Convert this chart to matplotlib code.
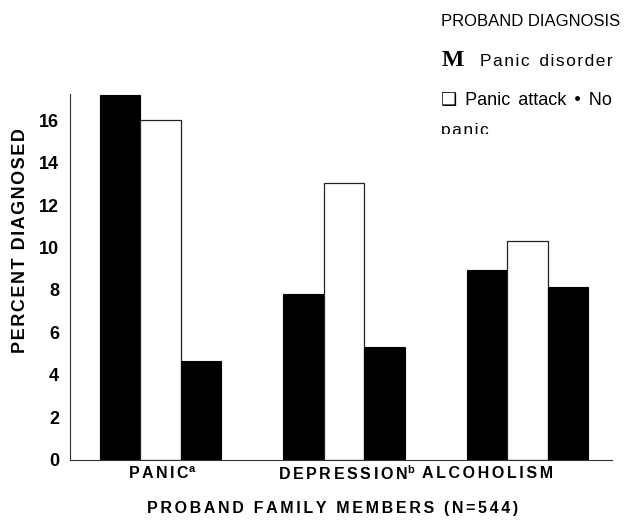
import matplotlib
matplotlib.use("Agg")
import matplotlib.pyplot as plt
import numpy as np
from matplotlib.transforms import Bbox

categories = ["PANIC", "DEPRESSION", "ALCOHOLISM"]
superscripts = ["a", "b", ""]
series_names = ["Panic disorder", "Panic attack", "No panic"]
panic_disorder = [17.2, 7.8, 8.95]
panic_attack = [16.0, 13.05, 10.3]
no_panic = [4.65, 5.3, 8.15]
yticks = [0, 2, 4, 6, 8, 10, 12, 14, 16]

plt.rcParams['font.family'] = ['Liberation Sans', 'DejaVu Sans']
plt.rcParams['mathtext.fontset'] = 'custom'
plt.rcParams['mathtext.bf'] = 'Liberation Sans:bold'
plt.rcParams['mathtext.rm'] = 'Liberation Sans'
SP = "\u2006"


def spaced(s, sp=SP):
    return sp.join(list(s))


W, H = 624, 521
fig = plt.figure(figsize=(6.24, 5.21), dpi=100)
ax = fig.add_axes([70/W, 61.5/H, 542/W, 365.7/H])

x = np.arange(len(categories))
w = 0.22
ax.bar(x - w, panic_disorder, w, color='black', edgecolor='black', linewidth=0.8)
ax.bar(x, panic_attack, w, color='white', edgecolor='#222222', linewidth=0.9)
ax.bar(x + w, no_panic, w, color='black', edgecolor='black', linewidth=0.8)

ax.set_xlim(-0.492, 2.46)
ax.set_ylim(0, 17.25)
for s in ['top', 'right']:
    ax.spines[s].set_visible(False)
for s in ['left', 'bottom']:
    ax.spines[s].set_linewidth(0.8)
    ax.spines[s].set_color('#333333')
ax.set_yticks(yticks)
ax.set_yticklabels([str(v) for v in yticks], fontweight='bold', fontsize=13)
ax.tick_params(axis='y', length=0, pad=8)
ax.set_xticks([])

fig.text(21/W, 1 - 241/H, spaced("PERCENT DIAGNOSED", "\u200a"), rotation=90, ha='center', va='center',
         fontweight='bold', fontsize=13)

# category labels
label_px = [162, 347, 488]
for i, (c, sup) in enumerate(zip(categories, superscripts)):
    txt = spaced(c) + (r"$^{\mathbf{%s}}$" % sup if sup else "")
    fig.text(label_px[i]/W, 1 - 474/H, txt, ha='center', va='center',
             fontweight='bold', fontsize=11.5)

fig.text(333/W, 1 - 508/H, spaced("PROBAND FAMILY MEMBERS (N=544)"), ha='center', va='center',
         fontweight='bold', fontsize=11.5)

# legend-like text block
lf = ['Liberation Sans', 'DejaVu Sans']
HS = "\u200a"
fig.text(441/W, 1 - 22/H, "PROBAND DIAGNOSIS", ha='left', va='center', fontsize=12, family=lf)
fig.text(442/W, 1 - 61/H, "M", ha='left', va='center', fontsize=17, fontweight='bold',
         family=['Liberation Serif', 'DejaVu Serif'])
fig.text(480/W, 1 - 62/H, spaced("Panic", HS) + "  " + spaced("disorder", HS), ha='left', va='center',
         fontsize=12.5, family=lf)
fig.text(441/W, 1 - 100/H, "\u2751 Panic attack \u2022 No".replace(" ", " \u2006"), ha='left', va='center',
         fontsize=13, family=lf)
t = fig.text(441/W, 1 - 134.5/H, spaced("panic", HS), ha='left', va='baseline', fontsize=12.5, family=lf)
t.set_clip_box(Bbox.from_extents(0, H - 133.5, W, H))
t.set_clip_on(True)

fig.savefig("out.png", dpi=100)
